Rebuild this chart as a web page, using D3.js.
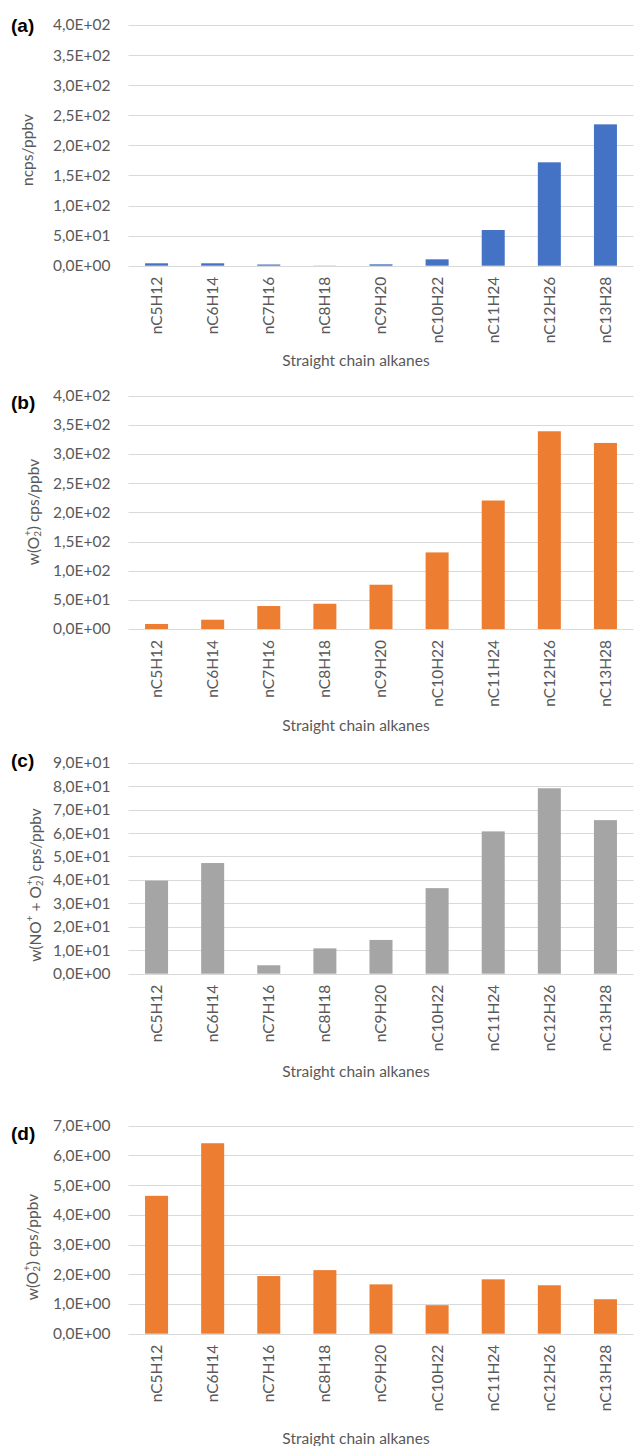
<!DOCTYPE html>
<html>
<head>
<meta charset="utf-8">
<script src="https://cdn.jsdelivr.net/npm/d3@7"></script>
<style>
  html, body { margin: 0; padding: 0; background: #fff; }
  svg { display: block; }
  text { font-family: Lato, "Open Sans", sans-serif; }
</style>
</head>
<body>
<svg id="chart" width="635" height="1446"></svg>
<script>
// Straight chain alkanes, C5 to C13
const categories = ["nC5H12", "nC6H14", "nC7H16", "nC8H18", "nC9H20", "nC10H22", "nC11H24", "nC12H26", "nC13H28"];

// (a) normalised sensitivity, ncps/ppbv
const valuesA = [4, 4, 2, 0.3, 2.3, 10.6, 59.3, 171.8, 234.9];
// (b) w(O2+) sensitivity, cps/ppbv
const valuesB = [8.6, 15.9, 39.4, 43.3, 75.9, 131.3, 220.3, 339, 319];
// (c) w(NO+ + O2+) sensitivity, cps/ppbv
const valuesC = [39.7, 47.2, 3.6, 10.8, 14.4, 36.5, 60.7, 79.1, 65.5];
// (d) w(O2+) sensitivity, cps/ppbv
const valuesD = [4.64, 6.41, 1.94, 2.14, 1.66, 0.96, 1.83, 1.63, 1.16];

// y-axis tick values for each panel
const ticksA = [0, 50, 100, 150, 200, 250, 300, 350, 400];
const ticksB = [0, 50, 100, 150, 200, 250, 300, 350, 400];
const ticksC = [0, 10, 20, 30, 40, 50, 60, 70, 80, 90];
const ticksD = [0, 1, 2, 3, 4, 5, 6, 7];

const xTitle = "Straight chain alkanes";

// Scientific notation with a decimal comma, e.g. 3,5E+02
function sci(v) {
  if (v === 0) return "0,0E+00";
  let e = Math.floor(Math.log10(Math.abs(v)));
  let m = v / Math.pow(10, e);
  if (Math.round(m * 10) / 10 >= 10) { e += 1; m = v / Math.pow(10, e); }
  const sign = e < 0 ? "-" : "+";
  return m.toFixed(1).replace(".", ",") + "E" + sign + String(Math.abs(e)).padStart(2, "0");
}

const panels = [
  { tag: "(a)", values: valuesA, ticks: ticksA, color: "#4472C4", top: 25, base: 265.7, tagY: 25, titleX: 27, titleY: 150, xTitleY: 360,
    yTitle: [["ncps/ppbv", 0]] },
  { tag: "(b)", values: valuesB, ticks: ticksB, color: "#ED7D31", top: 395.7, base: 629, tagY: 402, titleX: 33, titleY: 512, xTitleY: 725,
    yTitle: [["w(O", 0], ["2", 1], ["+", -1], [")  cps/ppbv", 0]] },
  { tag: "(c)", values: valuesC, ticks: ticksC, color: "#A5A5A5", top: 762.7, base: 973.7, tagY: 760, titleX: 35, titleY: 885, xTitleY: 1071,
    yTitle: [["w(NO", 0], ["+", -1], [" + O", 0], ["2", 1], ["+", -1], [")  cps/ppbv", 0]] },
  { tag: "(d)", values: valuesD, ticks: ticksD, color: "#ED7D31", top: 1125.7, base: 1333.7, tagY: 1133, titleX: 32, titleY: 1247, xTitleY: 1438,
    yTitle: [["w(O", 0], ["2", 1], ["+", -1], [")  cps/ppbv", 0]] }
];

const svg = d3.select("#chart");
const left = 128.5, right = 633.5;
const textColor = "#595959";
const gridColor = "#d9d9d9";

const x = d3.scaleBand()
  .domain(categories)
  .range([left, right])
  .paddingInner(0.59)
  .paddingOuter(0.295);

panels.forEach(p => {
  const g = svg.append("g");
  const y = d3.scaleLinear()
    .domain([0, d3.max(p.ticks)])
    .range([p.base, p.top]);

  // horizontal gridlines
  g.append("g")
    .selectAll("line")
    .data(p.ticks)
    .join("line")
    .attr("x1", left).attr("x2", right)
    .attr("y1", d => Math.round(y(d)) + 0.5)
    .attr("y2", d => Math.round(y(d)) + 0.5)
    .attr("stroke", gridColor)
    .attr("stroke-width", 1.2);

  // y tick labels
  const yAxis = d3.axisLeft(y).tickValues(p.ticks).tickFormat(sci).tickSize(0).tickPadding(18);
  const ya = g.append("g").attr("transform", `translate(${left},0)`).call(yAxis);
  ya.select(".domain").remove();
  ya.selectAll("text")
    .attr("fill", textColor)
    .style("font-size", "15.5px")
    .style("font-family", "Lato, sans-serif");

  // bars
  g.append("g")
    .selectAll("rect")
    .data(categories.map((c, i) => ({ c, v: p.values[i] })))
    .join("rect")
    .attr("x", d => x(d.c))
    .attr("width", x.bandwidth())
    .attr("y", d => y(d.v))
    .attr("height", d => y(0) - y(d.v))
    .attr("fill", p.color);

  // category labels (rotated)
  const xAxis = d3.axisBottom(x).tickSize(0).tickPadding(0);
  const xa = g.append("g").attr("transform", `translate(0,${p.base})`).call(xAxis);
  xa.select(".domain").remove();
  xa.selectAll("text")
    .attr("transform", "translate(0,11) rotate(-90)")
    .attr("x", 0).attr("y", 0).attr("dy", "0.35em")
    .attr("text-anchor", "end")
    .attr("fill", textColor)
    .style("font-size", "15.5px")
    .style("font-family", "Lato, sans-serif");

  // x axis title
  g.append("text")
    .attr("x", 356).attr("y", p.xTitleY)
    .attr("text-anchor", "middle")
    .attr("dominant-baseline", "central")
    .attr("fill", textColor)
    .style("font-size", "15.5px")
    .text(xTitle);

  // y axis title with sub/superscripts
  const yt = g.append("text")
    .attr("transform", `translate(${p.titleX},${p.titleY}) rotate(-90)`)
    .attr("text-anchor", "middle")
    .attr("dominant-baseline", "central")
    .attr("fill", textColor)
    .style("font-size", "15.5px");
  let shift = 0;
  p.yTitle.forEach(([s, pos], i) => {
    const ts = yt.append("tspan").text(s);
    const target = pos === 1 ? 4 : pos === -1 ? -6 : 0;
    ts.attr("dy", target - shift);
    if (pos !== 0) ts.style("font-size", "10px");
    // pull a superscript back over a preceding subscript
    if (pos === -1 && i > 0 && p.yTitle[i - 1][1] === 1) ts.attr("dx", -5);
    shift = target;
  });

  // panel tag
  g.append("text")
    .attr("x", 11).attr("y", p.tagY)
    .attr("dominant-baseline", "central")
    .attr("fill", "#000")
    .style("font-size", "19px")
    .style("font-weight", "bold")
    .style("font-family", "Liberation Sans, Arial, sans-serif")
    .text(p.tag);
});
</script>
</body>
</html>
